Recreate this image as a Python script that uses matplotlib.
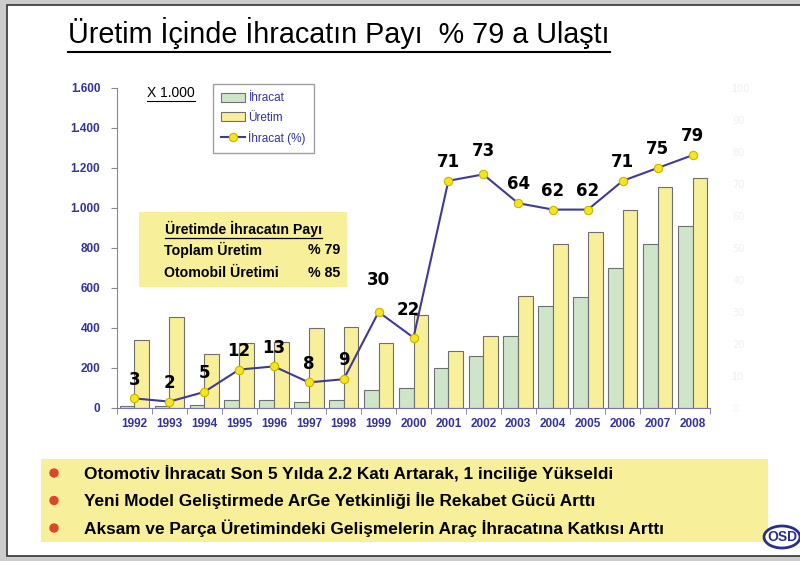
import matplotlib.pyplot as plt
from matplotlib.patches import Rectangle, Ellipse
from matplotlib.lines import Line2D

# data (bars in thousands, line in percent)
years = ['1992', '1993', '1994', '1995', '1996', '1997', '1998', '1999', '2000',
         '2001', '2002', '2003', '2004', '2005', '2006', '2007', '2008']
ihracat = [10, 10, 14, 38, 42, 28, 38, 92, 101, 200, 261, 358, 508, 556, 698, 820, 911]
uretim = [341, 455, 270, 325, 328, 400, 405, 325, 466, 285, 358, 561, 821, 881, 991, 1103, 1151]
ihracat_pct = [3, 2, 5, 12, 13, 8, 9, 30, 22, 71, 73, 64, 62, 62, 71, 75, 79]

left_ticks = [0, 200, 400, 600, 800, 1000, 1200, 1400, 1600]
left_labels = ['0', '200', '400', '600', '800', '1.000', '1.200', '1.400', '1.600']
right_ticks = [0, 10, 20, 30, 40, 50, 60, 70, 80, 90, 100]

title = 'Üretim İçinde İhracatın Payı  % 79 a Ulaştı'
box_title = 'Üretimde İhracatın Payı'
box_rows = [('Toplam Üretim', '% 79'), ('Otomobil Üretimi', '% 85')]
bullets = ['Otomotiv İhracatı Son 5 Yılda 2.2 Katı Artarak, 1 inciliğe Yükseldi',
           'Yeni Model Geliştirmede ArGe Yetkinliği İle Rekabet Gücü Arttı',
           'Aksam ve Parça Üretimindeki Gelişmelerin Araç İhracatına Katkısı Arttı']

W, H = 800, 561
GREEN = '#cfe5c9'
YELLOW = '#f7ef9a'
LINE = '#3f3a94'
TICKBLUE = '#33339a'
SANS = ['Liberation Sans', 'DejaVu Sans']


def px(x, y):
    # pixel coords (top-left origin) -> figure fraction
    return x / W, 1 - y / H


def rect(x0, y0, x1, y1, **kw):
    fig.add_artist(Rectangle(px(x0, y1), (x1 - x0) / W, (y1 - y0) / H,
                             transform=fig.transFigure, **kw))


def underline(t, lw=1.0, gap=2):
    fig.canvas.draw()
    bb = t.get_window_extent()
    y = bb.y0 - gap
    fig.add_artist(Line2D([bb.x0 / W, bb.x1 / W], [y / H, y / H],
                          transform=fig.transFigure, color='black', lw=lw))


fig = plt.figure(figsize=(W / 100, H / 100), dpi=100, facecolor='#cccccc')

# slide
rect(7, 5, 806, 556, facecolor='white', edgecolor='#333333', lw=1.2, zorder=0)

ax = fig.add_axes([117 / W, (H - 408) / H, 593 / W, 320 / H])
ax2 = ax.twinx()

x = list(range(len(years)))
bw = 0.42
ax.bar([i - bw / 2 for i in x], ihracat, bw, color=GREEN, edgecolor='#6f6f6f', lw=0.8, label='İhracat')
ax.bar([i + bw / 2 for i in x], uretim, bw, color=YELLOW, edgecolor='#6f6f6f', lw=0.8, label='Üretim')

ln, = ax2.plot(x, ihracat_pct, color=LINE, lw=1.5, marker='o', ms=6,
               mfc='#f5e51a', mec='#c8b400', mew=0.8, label='İhracat (%)')

offsets = {'1999': (0, 23), '2000': (-4, 20), '2002': (0, 17)}
for yr, i, v in zip(years, x, ihracat_pct):
    dx, dy = offsets.get(yr, (0, 13.5))
    ax2.annotate(str(v), (i, v), xytext=(dx, dy), textcoords='offset points',
                 ha='center', va='center', fontsize=12, fontweight='bold',
                 family='DejaVu Sans', color='black')

ax.set_xlim(-0.5, len(years) - 0.5)
ax.set_ylim(0, 1600)
ax2.set_ylim(0, 100)

ax.set_yticks(left_ticks)
ax.set_yticklabels(left_labels, family=SANS, fontsize=8.5, fontweight='bold', color=TICKBLUE)
ax.tick_params(axis='y', length=4, color='#888888', pad=8)

ax.set_xticks(x)
ax.set_xticklabels(years, family=SANS, fontsize=8.5, fontweight='bold', color=TICKBLUE)
ax.set_xticks([i - 0.5 for i in range(len(years) + 1)], minor=True)
ax.tick_params(axis='x', which='major', length=0, pad=7)
ax.tick_params(axis='x', which='minor', length=4, color='#7777aa')

ax2.set_yticks(right_ticks)
ax2.set_yticklabels([str(v) for v in right_ticks], fontsize=7, color='#efefef')
ax2.tick_params(axis='y', length=0, pad=16)

for a in (ax, ax2):
    a.spines['top'].set_visible(False)
    a.spines['right'].set_visible(False)
ax2.spines['left'].set_visible(False)
ax2.spines['bottom'].set_visible(False)
ax.spines['left'].set_color('#888888')
ax.spines['bottom'].set_color('#7777aa')

handles = [ax.containers[0], ax.containers[1], ln]
leg = ax2.legend(handles, ['İhracat', 'Üretim', 'İhracat (%)'], loc='upper left',
                 bbox_to_anchor=(0.162, 1.012), fancybox=False, edgecolor='#888888',
                 prop={'family': SANS, 'size': 8.5}, handlelength=2.0,
                 handleheight=0.8, handletextpad=0.3, labelspacing=0.6,
                 borderpad=0.7, borderaxespad=0)
leg.get_frame().set_linewidth(1.0)
for t in leg.get_texts():
    t.set_color(TICKBLUE)

t = fig.text(*px(147, 93), 'X 1.000', family=SANS, fontsize=10, va='center')
underline(t, lw=0.8, gap=1)

# inset share box
rect(139, 212, 347, 287, facecolor=YELLOW, edgecolor='none', zorder=1)
t = fig.text(*px(165, 229), box_title, family=SANS, fontsize=10.2, fontweight='bold', va='center')
underline(t, lw=0.9, gap=1)
for k, (name, val) in enumerate(box_rows):
    yy = 250 + 23 * k
    fig.text(*px(164, yy), name, family=SANS, fontsize=10.2, fontweight='bold', va='center')
    fig.text(*px(340, yy), val, family=SANS, fontsize=10.2, fontweight='bold', va='center', ha='right')

# title
t = fig.text(*px(68, 33), title, family=SANS, fontsize=20.7, va='center')
underline(t, lw=1.5, gap=3)

# bottom bullet box
rect(41, 459, 768, 542, facecolor=YELLOW, edgecolor='none')
for k, s in enumerate(bullets):
    yy = 473 + 27.5 * k
    fig.add_artist(Ellipse(px(54, yy), 8 / W, 8 / H, transform=fig.transFigure,
                           color='#d9482b'))
    fig.text(*px(84, yy), s, family=SANS, fontsize=12.4, fontweight='bold', va='center')

# logo
fig.add_artist(Ellipse(px(782, 537), 36 / W, 22 / H, transform=fig.transFigure,
                       facecolor='white', edgecolor='#2b2f86', lw=2))
fig.text(*px(782, 537), 'OSD', family=SANS, fontsize=10, fontweight='bold',
         color='#2b2f86', ha='center', va='center')

fig.savefig('out.png', dpi=100, facecolor=fig.get_facecolor())
